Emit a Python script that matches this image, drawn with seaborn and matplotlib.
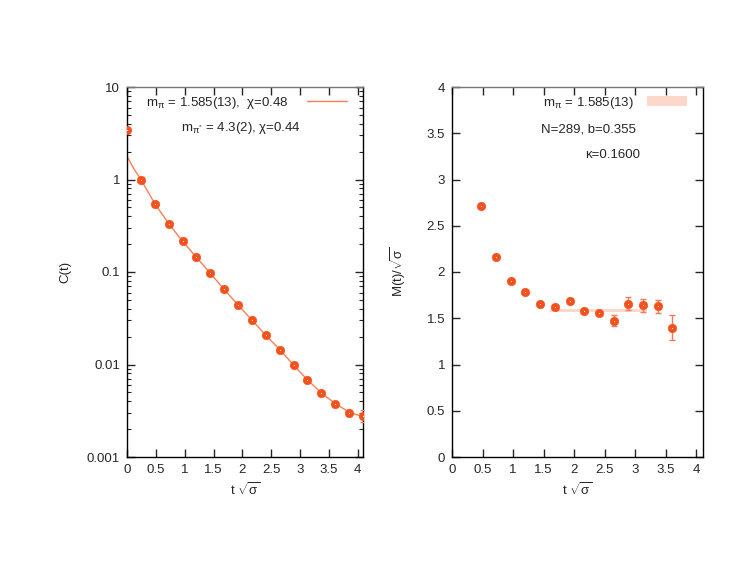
import matplotlib
matplotlib.use("Agg")
import matplotlib.pyplot as plt
import numpy as np
import seaborn as sns
from matplotlib.lines import Line2D
from matplotlib.patches import Patch
from matplotlib.ticker import LogLocator, NullFormatter, FixedLocator, FixedFormatter

# %% data
t_corr = [0.0, 0.241, 0.481, 0.722, 0.962, 1.203, 1.444, 1.684, 1.925,
          2.165, 2.406, 2.647, 2.887, 3.128, 3.368, 3.609, 3.850, 4.090]
c_corr = [3.45, 1.0, 0.549, 0.334, 0.215, 0.144, 0.0969, 0.0647, 0.0440,
          0.0302, 0.0207, 0.0145, 0.00985, 0.00682, 0.00490, 0.00375, 0.00301, 0.00280]
c_err = [0, 0, 0, 0, 0, 0, 0, 0, 0, 0, 0, 0, 0.0001, 0.0001, 0.0001, 0.00012, 0.00022, 0.0004]

fit_t = [0.0, 0.12, 0.241, 0.481, 0.722, 0.962, 1.203, 1.444, 1.684, 1.925,
         2.165, 2.406, 2.647, 2.887, 3.128, 3.368, 3.609, 3.850, 4.090]
fit_c = [1.78, 1.30, 1.0, 0.549, 0.334, 0.215, 0.144, 0.0969, 0.0647, 0.0440,
         0.0302, 0.0207, 0.0145, 0.00985, 0.00682, 0.00492, 0.00378, 0.00305, 0.00272]

t_mass = [0.481, 0.722, 0.962, 1.203, 1.444, 1.684, 1.925, 2.165, 2.406,
          2.647, 2.887, 3.128, 3.368, 3.609]
m_mass = [2.716, 2.158, 1.906, 1.787, 1.651, 1.619, 1.687, 1.583, 1.559,
          1.472, 1.659, 1.639, 1.631, 1.400]
m_err = [0.005, 0.006, 0.008, 0.008, 0.01, 0.012, 0.02, 0.015, 0.015,
         0.06, 0.068, 0.072, 0.07, 0.135]

band_t = [1.60, 3.19]
m_pi = 1.585
m_pi_err = 0.013

x_ticks = [0, 0.5, 1, 1.5, 2, 2.5, 3, 3.5, 4]
x_labels = ["0", "0.5", "1", "1.5", "2", "2.5", "3", "3.5", "4"]
c_ticks = [0.001, 0.01, 0.1, 1, 10]
c_labels = ["0.001", "0.01", "0.1", "1", "10"]
m_ticks = [0, 0.5, 1, 1.5, 2, 2.5, 3, 3.5, 4]
m_labels = ["0", "0.5", "1", "1.5", "2", "2.5", "3", "3.5", "4"]

# %%
sns.set_style("ticks")
plt.rcParams["font.family"] = ["Liberation Sans", "DejaVu Sans"]
plt.rcParams["mathtext.fontset"] = "custom"
plt.rcParams["mathtext.rm"] = "Liberation Sans"
plt.rcParams["mathtext.it"] = "Liberation Sans:italic"
plt.rcParams["mathtext.sf"] = "Liberation Sans"
fs = 9.5

point_col = "#f4511e"
line_col = "#ff7f50"
err_col = "#f37a5a"
band_col = "#fcd8ca"

fig = plt.figure(figsize=(7.47, 5.78), dpi=100)
ax1 = fig.add_axes([127 / 747, 121 / 578, 236 / 747, 370 / 578])
ax2 = fig.add_axes([452 / 747, 121 / 578, 251 / 747, 370 / 578])


def draw_points(ax, x, y, yerr):
    ax.errorbar(x, y, yerr=yerr, fmt="none", ecolor=err_col, elinewidth=1,
                capsize=2.5, capthick=1, zorder=3)
    sns.scatterplot(x=x, y=y, ax=ax, color=point_col, s=36, edgecolor=point_col,
                    linewidth=0.5, zorder=4, legend=False)
    ax.scatter(x, y, marker=".", s=2, color="white", linewidths=0, zorder=5)


# %% left: correlator
sns.lineplot(x=fit_t, y=fit_c, ax=ax1, color=line_col, linewidth=1, zorder=2)
draw_points(ax1, t_corr, c_corr, c_err)
ax1.set_yscale("log")
ax1.set_ylim(0.001, 10)
ax1.set_xlim(0, 4.09)
ax1.yaxis.set_major_locator(FixedLocator(c_ticks))
ax1.yaxis.set_major_formatter(FixedFormatter(c_labels))
ax1.yaxis.set_minor_locator(LogLocator(base=10, subs=np.arange(2, 10), numticks=20))
ax1.yaxis.set_minor_formatter(NullFormatter())
ax1.set_ylabel("C(t)", fontsize=fs, labelpad=11)

handles = [Line2D([], [], color=line_col, linewidth=1)]
ax1.legend(handles, [r"m$_{\mathrm{π}}$ = 1.585(13),  χ=0.48"], loc="center right",
           bbox_to_anchor=(0.932, 0.957), frameon=False, markerfirst=False,
           handlelength=3.0, handletextpad=1.4, borderaxespad=0, borderpad=0,
           fontsize=fs)
ax1.text(0.737, 0.889, r"m$_{\mathrm{π}^{*}}$ = 4.3(2), χ=0.44", transform=ax1.transAxes,
         ha="right", va="center", fontsize=fs)

# %% right: effective mass
ax2.fill_between(band_t, m_pi - m_pi_err, m_pi + m_pi_err, color=band_col,
                 linewidth=0, zorder=1)
draw_points(ax2, t_mass, m_mass, m_err)
ax2.set_ylim(0, 4)
ax2.set_xlim(0, 4.11)
ax2.set_yticks(m_ticks)
ax2.set_yticklabels(m_labels)
ax2.set_ylabel(r"M(t)/$\sqrt{\mathrm{σ}}$", fontsize=fs, labelpad=13)

handles = [Patch(facecolor=band_col, edgecolor="none")]
ax2.legend(handles, [r"m$_{\mathrm{π}}$ = 1.585(13)"], loc="center right",
           bbox_to_anchor=(0.936, 0.958), frameon=False, markerfirst=False,
           handlelength=3.0, handleheight=0.75, handletextpad=1.0,
           borderaxespad=0, borderpad=0, fontsize=fs)
ax2.text(0.734, 0.886, "N=289, b=0.355", transform=ax2.transAxes,
         ha="right", va="center", fontsize=fs)
ax2.text(0.751, 0.815, "κ=0.1600", transform=ax2.transAxes,
         ha="right", va="center", fontsize=fs)

for ax in (ax1, ax2):
    ax.set_xticks(x_ticks)
    ax.set_xticklabels(x_labels)
    ax.set_xlabel(r"t $\sqrt{\mathrm{σ}}$", fontsize=fs, labelpad=4)
    ax.tick_params(which="major", direction="in", length=6, width=1,
                   top=True, right=True, labelsize=fs, pad=5)
    ax.tick_params(which="minor", direction="in", length=3, width=0.8,
                   left=True, right=True)
    for side in ["left", "right", "bottom", "top"]:
        ax.spines[side].set_visible(True)
        ax.spines[side].set_linewidth(1)
        ax.spines[side].set_color("black")
    ax.spines["top"].set_color("#777777")
    ax.grid(False)

fig.savefig("out.png", dpi=100)
